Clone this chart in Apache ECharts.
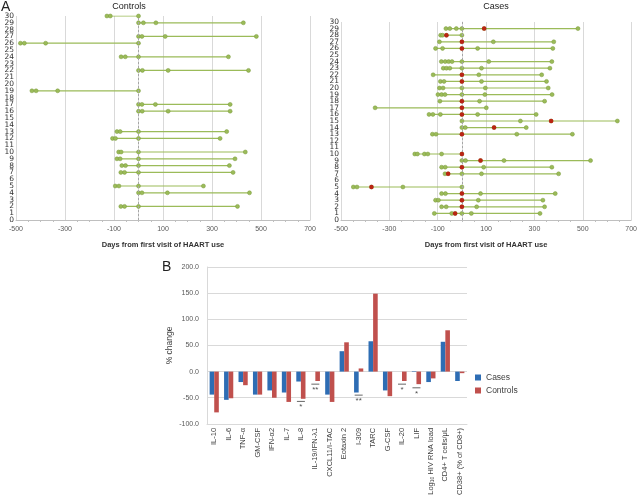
<!DOCTYPE html>
<html>
<head>
<meta charset="utf-8">
<title>HAART visits and % change</title>
<script src="https://cdn.jsdelivr.net/npm/echarts@6/dist/echarts.min.js"></script>
<style>
  html, body {margin:0; padding:0; background:#fff;}
  #main {width:640px; height:498px;}
</style>
</head>
<body>
<div id="main"></div>
<script>
// ---- panel A, controls: subject row and visit days
var ctrlRows = [30,29,27,26,24,22,19,17,16,13,12,10,9,8,7,5,4,2];
var ctrlDays = [
  [-129,-115,0],
  [0,20,71,428],
  [0,14,109,481],
  [-482,-466,-379,0],
  [-71,-54,0,367],
  [0,16,121,449],
  [-435,-418,-330,0],
  [0,14,69,374],
  [0,15,121,374],
  [-88,-75,0,360],
  [-106,-94,0,333],
  [-81,-71,0,436],
  [-88,-75,0,394],
  [-68,-53,0,371],
  [-72,-57,0,386],
  [-95,-80,0,265],
  [0,14,118,453],
  [-72,-57,0,404]
];

// ---- panel A, cases: green visits + one red visit (null = none)
var caseRows = [29,28,27,26,24,23,22,21,20,19,18,17,16,15,14,13,10,9,8,7,5,4,3,2,1];
var caseDays = [
  [-66,-50,-23,0,480],
  [-88,-80,0],
  [-93,130,380],
  [-109,-80,65,376],
  [-85,-69,-55,-41,0,111,372],
  [-77,-64,-50,0,81,364],
  [-119,70,330],
  [-89,-74,81,350],
  [-93,-78,0,97,357],
  [-99,-84,-70,0,95,373],
  [-91,73,342],
  [-359,101],
  [-136,-120,-89,65,307],
  [0,242,643],
  [0,14,266],
  [-122,-107,227,457],
  [-195,-184,-155,-141,-84],
  [0,15,174,532],
  [-84,-69,90,372],
  [-70,0,81,400],
  [-449,-434,-244,0],
  [-84,-68,77,386],
  [-109,-97,68,335],
  [-84,-65,61,342],
  [-114,-42,0,39,323]
];
var caseRed = [92,-64,0,0,null,null,0,0,null,null,0,0,0,369,133,0,0,77,0,-57,-374,0,0,0,-28];

var rowLabels = ['0','1','2','3','4','5','6','7','8','9','10','11','12','13','14','15',
  '16','17','18','19','20','21','22','23','24','25','26','27','28','29','30'];
var dayTicks = [-500,700,200];

// ---- panel B
var markers = ['IL-10','IL-6','TNF-α','GM-CSF','IFN-α2','IL-7','IL-8','IL-19/IFN-λ1','CXCL11/I-TAC',
  'Eotaxin 2','I-309','TARC','G-CSF','IL-20','LIF','Log10 HIV RNA load','CD4+ T cells/μL','CD38+ (% of CD8+)'];
var casesPct    = [-44,-54,-20,-44,-36,-40,-19,0,-44,39,-40,58,-36,0,1,-20,57,-18];
var controlsPct = [-78,-51,-26,-44,-50,-58,-52,-18,-58,56,6,149,-47,-18,-24,-13,79,-3];
var sigIndex = [6,7,10,13,14];
var sigY     = [-57,-24,-45,-24,-31];
var sigText  = ['*','**','**','*','*'];

var FONT = 'Liberation Sans';
var GREEN = '#9BBB59';
var GREEN_DK = '#7A9A3C';
var RED_PT = '#C00000';
var BLUE = '#2E6DB4';
var RED = '#C0504D';

var chart = echarts.init(document.getElementById('main'));

function dayAxis(grid) {
  return {
    type: 'value', gridIndex: grid,
    min: dayTicks[0], max: dayTicks[1], interval: dayTicks[2],
    name: 'Days from first visit of HAART use',
    nameLocation: 'middle', nameGap: 21,
    nameTextStyle: {fontFamily: FONT, fontSize: 7.5, fontWeight: 'bold', color: '#333'},
    axisLine: {show: true, lineStyle: {color: '#bfbfbf'}},
    axisTick: {show: false},
    minorTick: {show: true, splitNumber: 4, length: 2, lineStyle: {color: '#bfbfbf'}},
    axisLabel: {fontFamily: FONT, fontSize: 7, color: '#595959', margin: 6,
      showMinLabel: true, showMaxLabel: true},
    splitLine: {show: true, lineStyle: {color: '#d9d9d9'}}
  };
}
function rowAxis(grid) {
  return {
    type: 'category', gridIndex: grid, data: rowLabels, boundaryGap: false,
    axisLine: {show: true, lineStyle: {color: '#d9d9d9'}},
    axisTick: {show: false},
    axisLabel: {fontFamily: 'DejaVu Sans', fontSize: 7.5, color: '#333', margin: 2,
      interval: 0, hideOverlap: false},
    splitLine: {show: false}
  };
}

var series = [];
function zeroLine() {
  return {
    silent: true, symbol: 'none', label: {show: false},
    lineStyle: {color: '#a6a6a6', type: [2, 2], width: 1},
    data: [{xAxis: 0}]
  };
}
ctrlRows.forEach(function (r, i) {
  var s = {
    type: 'line', xAxisIndex: 0, yAxisIndex: 0,
    data: ctrlDays[i].map(function (d) { return [d, r]; }),
    symbol: 'circle', symbolSize: 4,
    lineStyle: {color: GREEN, width: 1.2},
    itemStyle: {color: GREEN, borderColor: GREEN_DK, borderWidth: 0.5},
    animation: false, z: 3
  };
  if (i === 0) s.markLine = zeroLine();
  series.push(s);
});
var redPts = [];
caseRows.forEach(function (r, i) {
  var days = caseDays[i].slice();
  if (caseRed[i] !== null) {
    days.push(caseRed[i]);
    redPts.push([caseRed[i], r]);
  }
  days.sort(function (a, b) { return a - b; });
  var s = {
    type: 'line', xAxisIndex: 1, yAxisIndex: 1,
    data: days.map(function (d) { return [d, r]; }),
    symbol: 'circle', symbolSize: 4,
    lineStyle: {color: GREEN, width: 1.2},
    itemStyle: {color: GREEN, borderColor: GREEN_DK, borderWidth: 0.5},
    animation: false, z: 3
  };
  if (i === 0) s.markLine = zeroLine();
  series.push(s);
});
series.push({
  type: 'scatter', xAxisIndex: 1, yAxisIndex: 1,
  data: redPts, symbolSize: 4.5,
  itemStyle: {color: RED_PT}, z: 5, animation: false
});

series.push({
  name: 'Cases', type: 'bar', xAxisIndex: 2, yAxisIndex: 2,
  data: casesPct, barWidth: 4.6, barGap: '0%',
  itemStyle: {color: BLUE}, animation: false
});
series.push({
  name: 'Controls', type: 'bar', xAxisIndex: 2, yAxisIndex: 2,
  data: controlsPct, barWidth: 4.6, barGap: '0%',
  itemStyle: {color: RED}, animation: false
});
series.push({
  type: 'scatter', xAxisIndex: 2, yAxisIndex: 2,
  data: sigIndex.map(function (c, i) { return [c, sigY[i]]; }),
  symbol: 'rect', symbolSize: [8, 1],
  itemStyle: {color: '#404040'},
  label: {
    show: true, position: 'bottom', distance: 1,
    fontFamily: FONT, fontSize: 8, color: '#222',
    formatter: function (p) { return sigText[p.dataIndex]; }
  },
  z: 6, animation: false
});

var option = {
  backgroundColor: '#fff',
  animation: false,
  graphic: [
    {type: 'text', left: 1, top: 0, style: {text: 'A', font: '14px ' + FONT, fill: '#222'}},
    {type: 'text', left: 162, top: 260, style: {text: 'B', font: '14px ' + FONT, fill: '#222'}},
    {type: 'text', x: 129, y: 2, style: {text: 'Controls', font: '9px ' + FONT, fill: '#222', align: 'center'}},
    {type: 'text', x: 496, y: 2, style: {text: 'Cases', font: '9px ' + FONT, fill: '#222', align: 'center'}}
  ],
  legend: {
    orient: 'vertical', left: 470, top: 368,
    itemWidth: 6, itemHeight: 6, itemGap: 4,
    icon: 'rect',
    textStyle: {fontFamily: FONT, fontSize: 8.5, color: '#404040'},
    data: ['Cases', 'Controls']
  },
  grid: [
    {left: 16, top: 16, width: 294, height: 204},
    {left: 341, top: 22, width: 292, height: 198},
    {left: 207, top: 267, width: 260, height: 165}
  ],
  xAxis: [
    dayAxis(0),
    dayAxis(1),
    {
      type: 'category', gridIndex: 2, data: markers,
      axisLine: {show: true, onZero: false, lineStyle: {color: '#d9d9d9'}},
      axisTick: {show: false},
      axisLabel: {
        rotate: 90, interval: 0, margin: 4,
        fontFamily: FONT, fontSize: 7.5, color: '#404040',
        formatter: function (v) {
          return v.indexOf('Log10') === 0 ? 'Log{sub|10} HIV RNA load' : v;
        },
        rich: {sub: {fontFamily: FONT, fontSize: 5, color: '#404040', verticalAlign: 'bottom', padding: [4, 0, 0, 0]}}
      }
    }
  ],
  yAxis: [
    rowAxis(0),
    rowAxis(1),
    {
      type: 'value', gridIndex: 2, min: -100, max: 200, interval: 50,
      name: '% change', nameLocation: 'middle', nameGap: 33, nameRotate: 90,
      nameTextStyle: {fontFamily: FONT, fontSize: 8.5, color: '#404040'},
      axisLine: {show: true, lineStyle: {color: '#d9d9d9'}},
      axisTick: {show: false},
      axisLabel: {fontFamily: FONT, fontSize: 7, color: '#595959', margin: 8,
        formatter: function (v) { return v.toFixed(1); }},
      splitLine: {show: true, lineStyle: {color: '#d9d9d9'}}
    }
  ],
  series: series
};

chart.setOption(option);
</script>
</body>
</html>
